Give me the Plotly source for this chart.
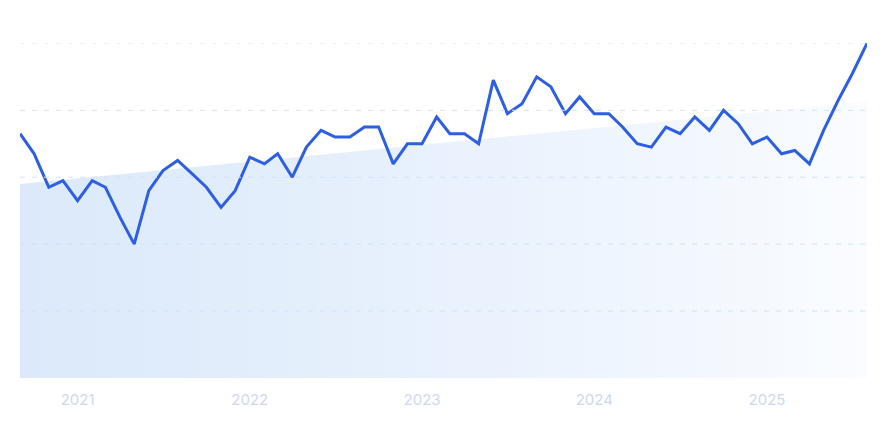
import pandas as pd
import plotly.graph_objects as go

# monthly index values, Sep 2020 .. Aug 2025
months = pd.date_range("2020-09-01", "2025-08-01", freq="MS")
values = [73, 67, 57, 59, 53, 59, 57, 48, 40, 56,
          62, 65, 61, 57, 51, 56, 66, 64, 67, 60,
          69, 74, 72, 72, 75, 75, 64, 70, 70, 78,
          73, 73, 70, 89, 79, 82, 90, 87, 79, 84,
          79, 79, 75, 70, 69, 75, 73, 78, 74, 80,
          76, 70, 72, 67, 68, 64, 74, 83, 91, 100]

# trend band (start / end value)
trend = [58, 82.6]
grid_vals = [20, 40, 60, 80, 100]
year_ticks = ["2021-01-01", "2022-01-01", "2023-01-01", "2024-01-01", "2025-01-01"]
year_labels = ["2021", "2022", "2023", "2024", "2025"]

fig = go.Figure()

# shaded trend area
fig.add_trace(go.Scatter(
    x=[months[0], months[-1]], y=trend,
    mode="lines", line=dict(width=0),
    fill="tozeroy",
    fillgradient=dict(type="horizontal",
                      colorscale=[[0, "rgb(219,233,250)"], [0.6, "rgb(235,243,253)"], [1, "rgb(250,252,255)"]]),
    hoverinfo="skip",
))

# dashed grid lines, top one fainter
for v in grid_vals:
    fig.add_hline(y=v, line=dict(color="#eef1f6" if v == 100 else "#d3e0fb", width=1, dash="5px,7px"),
                  layer="above")

fig.add_trace(go.Scatter(
    x=months, y=values, mode="lines",
    line=dict(color="#2d5ee6", width=3),
))

fig.update_xaxes(
    range=[months[0], months[-1]],
    tickvals=year_ticks, ticktext=year_labels,
    showgrid=False, zeroline=False, showline=False,
    tickfont=dict(family="Inter", size=15, color="#cdd8f4"),
    ticklabelstandoff=11,
)
fig.update_yaxes(range=[0, 104], showgrid=False, zeroline=False,
                 showticklabels=False, fixedrange=True)

# page body adds an 8px offset, margins compensate for it
fig.update_layout(
    width=890, height=430,
    margin=dict(l=12, r=31, t=22, b=60),
    plot_bgcolor="white", paper_bgcolor="white",
    showlegend=False,
)

fig.write_html("out.html")
